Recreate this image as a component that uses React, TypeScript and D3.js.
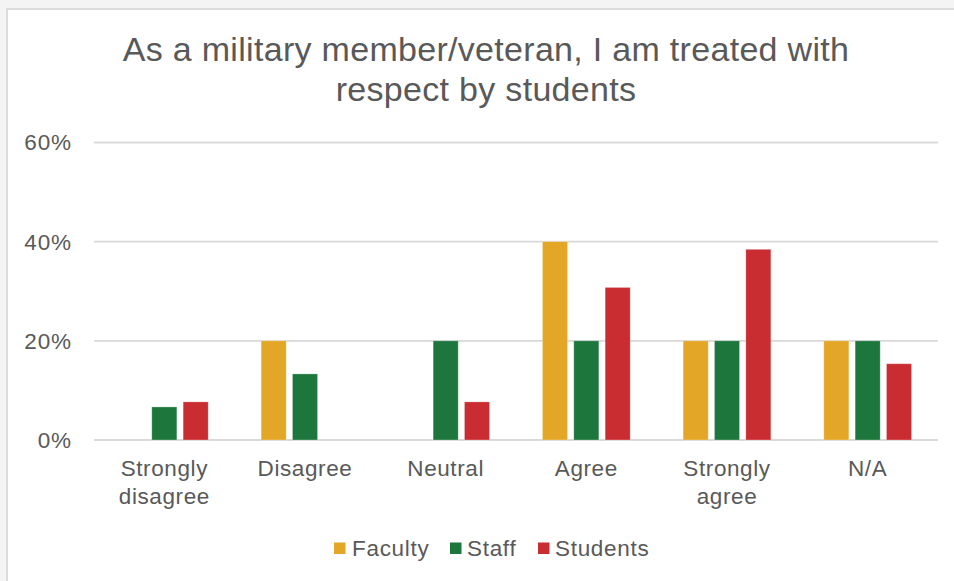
import React from "react";
import * as d3 from "d3";

const categories: string[][] = [
  ["Strongly", "disagree"],
  ["Disagree"],
  ["Neutral"],
  ["Agree"],
  ["Strongly", "agree"],
  ["N/A"],
];
const seriesNames = ["Faculty", "Staff", "Students"];
const faculty = [0, 0.2, 0, 0.4, 0.2, 0.2];
const staff = [0.0667, 0.1333, 0.2, 0.2, 0.2, 0.2];
const students = [0.0769, 0, 0.0769, 0.3077, 0.3846, 0.1538];
const yTicks = [0, 0.2, 0.4, 0.6];
const titleLines = ["As a military member/veteran, I am treated with", "respect by students"];

const colors = ["#E3A626", "#1D763C", "#C92D31"];
const FONT = "'Liberation Sans', Arial, sans-serif";
const TEXT = "#595959";

export default function App() {
  const W = 954, H = 581;
  const left = 94, right = 938, top = 142.5, bottom = 440;
  const x0 = d3.scaleBand<number>().domain(d3.range(categories.length)).range([left, right]).padding(0);
  const groupW = 94;
  const x1 = d3.scaleBand<string>().domain(seriesNames).range([0, groupW]).paddingInner(0.2).paddingOuter(0.1);
  const y = d3.scaleLinear().domain([0, 0.6]).range([bottom, top]);
  const series = [faculty, staff, students];
  const fmt = d3.format(".0%");

  const legendItems = [
    { name: "Faculty", sq: 334, tx: 352 },
    { name: "Staff", sq: 450, tx: 467 },
    { name: "Students", sq: 538, tx: 555 },
  ];

  return (
    <div style={{ position: "absolute", left: 0, top: 0 }}>
      <svg width={W} height={H} style={{ display: "block" }} fontFamily={FONT}>
        <rect x={0} y={0} width={W} height={H} fill="#f4f4f4" />
        <rect x={7} y={9} width={W} height={H} fill="#ffffff" stroke="#dcdcdc" strokeWidth={2} />
        {titleLines.map((t, i) => (
          <text key={i} x={486} y={61 + i * 40} textAnchor="middle" fontSize={34} letterSpacing={0.3} fill={TEXT}>
            {t}
          </text>
        ))}
        {yTicks.map((t) => (
          <g key={t}>
            <line x1={left} x2={right} y1={y(t)} y2={y(t)} stroke="#d9d9d9" strokeWidth={1.8} />
            <text x={72} y={y(t)} dy="0.35em" textAnchor="end" fontSize={22.5} letterSpacing={0.9} fill={TEXT}>
              {fmt(t)}
            </text>
          </g>
        ))}
        {series.map((vals, si) =>
          vals.map((v, ci) => {
            if (v <= 0) return null;
            const cx = x0(ci)! + x0.bandwidth() / 2 - groupW / 2 + x1(seriesNames[si])!;
            return (
              <rect
                key={`${si}-${ci}`}
                x={cx}
                y={y(v)}
                width={x1.bandwidth()}
                height={y(0) - y(v)}
                fill={colors[si]}
                stroke="#ffffff"
                strokeOpacity={0.35}
                strokeWidth={0.8}
              />
            );
          })
        )}
        {categories.map((lines, ci) => (
          <text key={ci} textAnchor="middle" fontSize={22.5} letterSpacing={0.6} fill={TEXT}>
            {lines.map((l, li) => (
              <tspan key={li} x={x0(ci)! + x0.bandwidth() / 2} y={476 + li * 28}>
                {l}
              </tspan>
            ))}
          </text>
        ))}
        {legendItems.map((it, i) => (
          <g key={it.name}>
            <rect x={it.sq} y={542.5} width={11.5} height={11.5} fill={colors[i]} />
            <text x={it.tx} y={556} fontSize={22.5} letterSpacing={0.7} fill={TEXT}>
              {it.name}
            </text>
          </g>
        ))}
      </svg>
    </div>
  );
}
